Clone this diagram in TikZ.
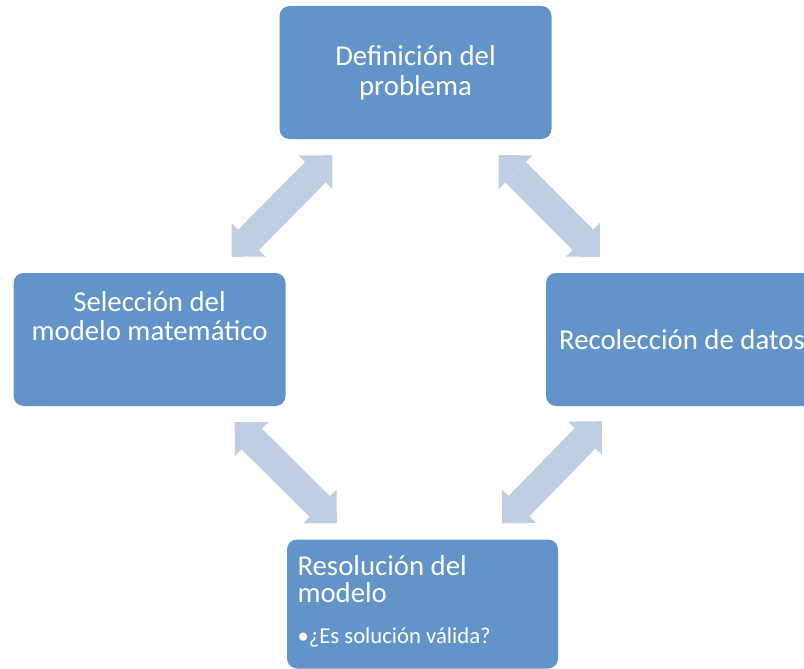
\documentclass[tikz,border=0pt]{standalone}
\usepackage{fontspec}
\setmainfont{Carlito}
\usepackage{xcolor}
\usetikzlibrary{arrows.meta}

\definecolor{cajaazul}{RGB}{98,148,201}
\definecolor{flechaazul}{RGB}{191,206,227}

\tikzset{
  etapa/.style={rectangle, rounded corners=10pt, fill=cajaazul, text=white,
    minimum width=272pt, minimum height=133pt, inner sep=0pt, align=center,
    font=\fontsize{28.8}{29}\selectfont},
  punta/.tip={Triangle[length=24pt, width=48pt, line width=0pt]},
  flecha/.style={draw=flechaazul, line width=29pt, punta-punta}
}

\begin{document}
\begin{tikzpicture}[x=1pt, y=-1pt]
  \useasboundingbox (0,0) rectangle (804,669);
  \clip (0,0) rectangle (804,669);
  % cajas del ciclo
  \node[etapa] (definicion) at (415.5,72.5)
    {\parbox[c][133pt][t]{260pt}{\centering\fontsize{28.8}{30}\selectfont
      \vspace*{40pt}Definición del\\problema}};
  \node[etapa] (recoleccion) at (682,339.5) {Recolección de datos};
  \node[etapa] (seleccion) at (149.5,339.5)
    {\parbox[c][133pt][t]{260pt}{\centering\vspace*{19pt}Selección del\\modelo matemático}};
  \node[etapa, minimum width=271pt, minimum height=129pt] (resolucion) at (422.5,604)
    {\parbox[c][129pt][t]{250pt}{\raggedright\fontsize{28.8}{27.3}\selectfont
      \vspace*{16pt}Resolución del\\modelo\par\vspace{14pt}
      {\fontsize{22.7}{27}\selectfont •¿Es solución válida?\par}}};
  % extremos de las flechas
  \coordinate (f1a) at ([shift={(-54,-16)}]seleccion.north east);
  \coordinate (f1b) at ([shift={(53,16)}]definicion.south west);
  \coordinate (f2a) at ([shift={(-53,16)}]definicion.south east);
  \coordinate (f2b) at ([shift={(54,-16)}]recoleccion.north west);
  \coordinate (f3a) at ([shift={(-51,16)}]seleccion.south east);
  \coordinate (f3b) at ([shift={(50,-16)}]resolucion.north west);
  \coordinate (f4a) at ([shift={(56,15)}]recoleccion.south west);
  \coordinate (f4b) at ([shift={(-56,-16)}]resolucion.north east);
  % flechas dobles
  \draw[flecha] (f1a) -- (f1b);
  \draw[flecha] (f2a) -- (f2b);
  \draw[flecha] (f3a) -- (f3b);
  \draw[flecha] (f4a) -- (f4b);
\end{tikzpicture}
\end{document}
